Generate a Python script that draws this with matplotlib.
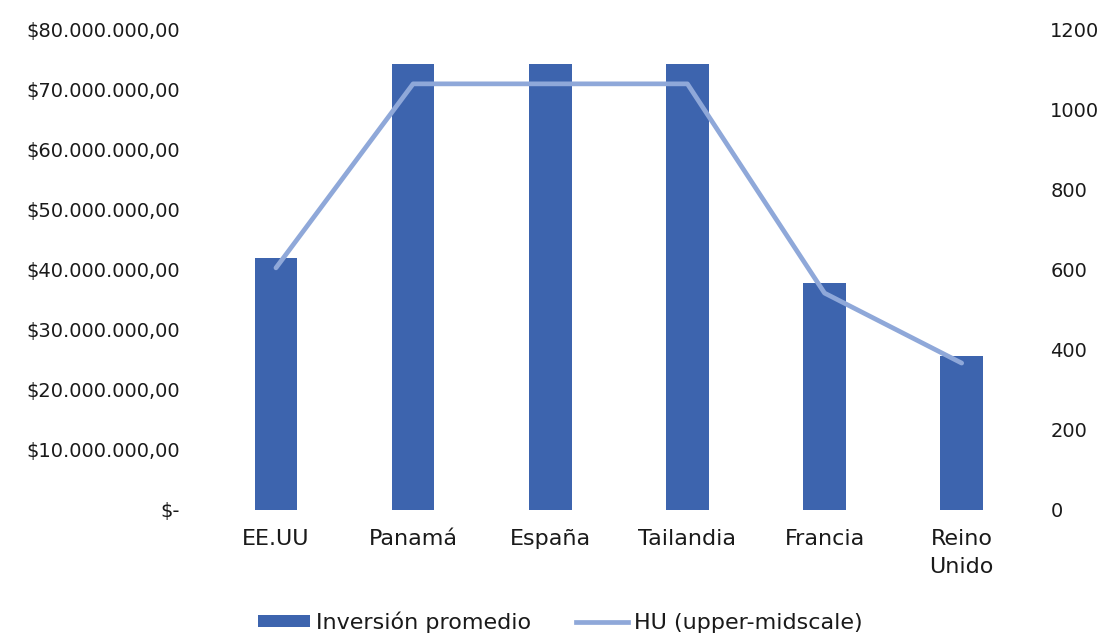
import matplotlib
matplotlib.use("Agg")
import matplotlib.pyplot as plt
from matplotlib.ticker import FuncFormatter, MultipleLocator
from matplotlib.patches import Patch
from matplotlib.lines import Line2D

plt.rcParams['font.family'] = ['DejaVu Sans']

categories = ["EE.UU", "Panamá", "España", "Tailandia", "Francia", "Reino\nUnido"]
inversion = [42000000, 74300000, 74300000, 74300000, 37800000, 25600000]
hu = [605, 1065, 1065, 1065, 542, 367]

bar_color = "#3D64AE"
line_color = "#8FA8D9"
text_color = "#1a1a1a"
fs = 14
fs_cat = 16

fig = plt.figure(figsize=(11.09, 6.35), dpi=100)
ax = fig.add_axes([0.187, 0.197, 0.742, 0.756])
x = list(range(len(categories)))
ax.bar(x, inversion, width=0.31, color=bar_color, zorder=2)
ax.set_xlim(-0.5, len(categories) - 0.5)
ax.set_ylim(0, 80000000)
ax.yaxis.set_major_locator(MultipleLocator(10000000))

def money(v, pos):
    if v == 0:
        return "$-"
    s = f"{v:,.2f}".replace(",", "X").replace(".", ",").replace("X", ".")
    return "$" + s

ax.yaxis.set_major_formatter(FuncFormatter(money))
ax.set_xticks(x)
ax.set_xticklabels(categories, fontsize=fs_cat, linespacing=1.45, color=text_color)
ax.tick_params(axis='x', length=0, pad=14)
ax.tick_params(axis='y', length=0, pad=19.5, labelsize=fs, labelcolor=text_color)
for s in ax.spines.values():
    s.set_visible(False)

ax2 = ax.twinx()
ax2.plot(x, hu, color=line_color, linewidth=3.4, solid_capstyle='round', zorder=3)
ax2.set_ylim(0, 1200)
ax2.yaxis.set_major_locator(MultipleLocator(200))
ax2.tick_params(axis='y', length=0, pad=14.4, labelsize=fs, labelcolor=text_color)
for s in ax2.spines.values():
    s.set_visible(False)

handles = [Patch(facecolor=bar_color, edgecolor='none'),
           Line2D([0], [0], color=line_color, linewidth=3.4)]
leg = fig.legend(handles, ["Inversión promedio", "HU (upper-midscale)"],
           loc='center', bbox_to_anchor=(0.505, 0.02), ncol=2, frameon=False,
           fontsize=fs_cat, handlelength=2.35, handletextpad=0.27, columnspacing=2.0,
           handleheight=0.45)
for t in leg.get_texts():
    t.set_color(text_color)

fig.savefig("out.png", dpi=100)
